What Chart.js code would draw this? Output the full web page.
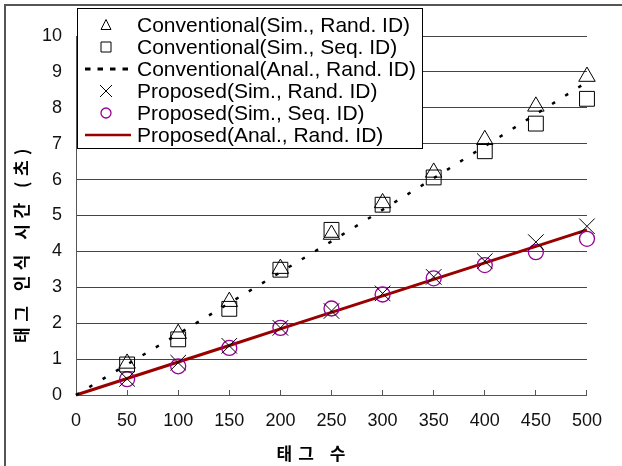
<!DOCTYPE html>
<html>
<head>
<meta charset="utf-8">
<script src="https://cdn.jsdelivr.net/npm/chart.js@4.4.1/dist/chart.umd.min.js"></script>
<style>
html, body { margin: 0; padding: 0; background: #fff; }
#wrap { position: relative; width: 622px; height: 466px; overflow: hidden; }
#frame { position: absolute; left: 4px; top: 4px; width: 700px; height: 600px; border-left: 2px solid #555; border-top: 2px solid #555; }
#myChart { position: absolute; left: 0; top: 0; }
</style>
</head>
<body>
<div id="wrap">
  <div id="frame"></div>
  <canvas id="myChart" width="622" height="466"></canvas>
</div>
<script>
// tag counts
var simTags = [50, 100, 150, 200, 250, 300, 350, 400, 450, 500];
var analTags = [0, 50, 100, 150, 200, 250, 300, 350, 400, 450, 500];

// recognition time (s)
var convSimRand = [0.88, 1.71, 2.6, 3.52, 4.47, 5.35, 6.2, 7.11, 8.04, 8.87];
var convSimSeq = [0.85, 1.55, 2.4, 3.49, 4.6, 5.3, 6.06, 6.79, 7.56, 8.25];
var convAnalRand = [0, 0.85, 1.7, 2.56, 3.42, 4.28, 5.16, 6.04, 6.93, 7.82, 8.72];
var propSimRand = [0.45, 0.9, 1.37, 1.87, 2.34, 2.83, 3.29, 3.73, 4.26, 4.7];
var propSimSeq = [0.44, 0.8, 1.31, 1.87, 2.41, 2.8, 3.25, 3.62, 3.98, 4.35];
var propAnalRand = [0, 0.46, 0.92, 1.38, 1.84, 2.3, 2.76, 3.22, 3.68, 4.14, 4.6];

var labels = [
    'Conventional(Sim., Rand. ID)',
    'Conventional(Sim., Seq. ID)',
    'Conventional(Anal., Rand. ID)',
    'Proposed(Sim., Rand. ID)',
    'Proposed(Sim., Seq. ID)',
    'Proposed(Anal., Rand. ID)'
];
var xTitle = '태그 수';
var yTitle = '태그 인식 시간 (초)';

function pts(xs, ys) {
    return xs.map((x, i) => ({x: x, y: ys[i]}));
}

function markerSet(label, xs, ys, style, radius, color, width) {
    return {
        label: label,
        data: pts(xs, ys),
        showLine: false,
        pointStyle: style,
        pointRadius: radius,
        pointBorderColor: color,
        pointBackgroundColor: 'rgba(0,0,0,0)',
        pointBorderWidth: width,
        borderColor: color,
        clip: false
    };
}

function lineSet(label, xs, ys, color, width, dash) {
    return {
        label: label,
        data: pts(xs, ys),
        borderColor: color,
        borderWidth: width,
        borderDash: dash,
        pointRadius: 0,
        fill: false,
        tension: 0,
        clip: false
    };
}

// small legend marker drawn by hand
function drawMarker(ctx, style, x, y, color, width) {
    ctx.save();
    ctx.strokeStyle = color;
    ctx.lineWidth = width;
    ctx.setLineDash([]);
    ctx.beginPath();
    if (style === 'triangle') {
        ctx.moveTo(x, y - 5.5);
        ctx.lineTo(x - 5, y + 4.5);
        ctx.lineTo(x + 5, y + 4.5);
        ctx.closePath();
    } else if (style === 'rect') {
        ctx.rect(x - 5, y - 5, 10, 10);
    } else if (style === 'crossRot') {
        ctx.moveTo(x - 6, y - 6); ctx.lineTo(x + 6, y + 6);
        ctx.moveTo(x + 6, y - 6); ctx.lineTo(x - 6, y + 6);
    } else {
        ctx.arc(x, y, 5, 0, Math.PI * 2);
    }
    ctx.stroke();
    ctx.restore();
}

var boxLegend = {
    id: 'boxLegend',
    afterDraw(chart) {
        var ctx = chart.ctx;
        ctx.save();
        ctx.fillStyle = '#fff';
        ctx.strokeStyle = '#000';
        ctx.lineWidth = 1;
        ctx.fillRect(77.5, 8.5, 345, 140);
        ctx.strokeRect(77.5, 8.5, 345, 140);
        ctx.font = '21px "Liberation Sans", Arial, sans-serif';
        ctx.textBaseline = 'middle';
        ctx.textAlign = 'left';
        chart.data.datasets.forEach((ds, i) => {
            var y = 25 + i * 22;
            if (ds.showLine === false) {
                drawMarker(ctx, ds.pointStyle, 106, y, ds.pointBorderColor, ds.pointBorderWidth);
            } else {
                ctx.save();
                ctx.strokeStyle = ds.borderColor;
                ctx.lineWidth = i === 2 ? 3 : 2.5;
                ctx.setLineDash(i === 2 ? [5.5, 7] : []);
                ctx.beginPath();
                ctx.moveTo(85, y);
                ctx.lineTo(131, y);
                ctx.stroke();
                ctx.restore();
            }
            ctx.fillStyle = '#000';
            ctx.fillText(ds.label, 137, y + 1);
        });

        // axis titles
        ctx.font = 'bold 17px "Noto Sans CJK KR", sans-serif';
        ctx.fillStyle = '#000';
        ctx.textAlign = 'center';
        ctx.textBaseline = 'middle';
        if ('letterSpacing' in ctx) ctx.letterSpacing = '6px';
        ctx.fillText(xTitle, 314, 454);
        if ('letterSpacing' in ctx) ctx.letterSpacing = '5.5px';
        ctx.translate(22, 246);
        ctx.rotate(-Math.PI / 2);
        ctx.fillText(yTitle, 3, 0);
        ctx.restore();
    }
};

var ctx = document.getElementById('myChart').getContext('2d');
var myChart = new Chart(ctx, {
    type: 'line',
    data: {
        datasets: [
            markerSet(labels[0], simTags, convSimRand, 'triangle', 9.5, '#000', 1),
            markerSet(labels[1], simTags, convSimSeq, 'rect', 10.5, '#000', 1),
            lineSet(labels[2], analTags, convAnalRand, '#000', 2.5, [3.5, 12]),
            markerSet(labels[3], simTags, propSimRand, 'crossRot', 11, '#000', 1),
            markerSet(labels[4], simTags, propSimSeq, 'circle', 7.5, '#990099', 1.3),
            lineSet(labels[5], analTags, propAnalRand, '#990000', 3, [])
        ]
    },
    options: {
        responsive: false,
        animation: false,
        events: [],
        layout: { padding: { top: 36, right: 31, left: 0, bottom: 0 } },
        plugins: {
            legend: { display: false },
            tooltip: { enabled: false }
        },
        scales: {
            x: {
                type: 'linear',
                min: 0,
                max: 500,
                ticks: {
                    stepSize: 50,
                    padding: 20,
                    color: '#111',
                    font: { family: '"Liberation Sans", Arial, sans-serif', size: 18 }
                },
                grid: { drawOnChartArea: false, drawTicks: true, tickLength: -5, color: '#555' },
                border: { color: '#555', width: 1 },
                afterFit: (scale) => { scale.height = 71; }
            },
            y: {
                min: 0,
                max: 10,
                ticks: {
                    stepSize: 1,
                    padding: 14,
                    color: '#111',
                    font: { family: '"Liberation Sans", Arial, sans-serif', size: 18 }
                },
                grid: { drawTicks: false, color: '#444' },
                border: { color: '#555', width: 1 },
                afterFit: (scale) => { scale.width = 76; }
            }
        }
    },
    plugins: [boxLegend]
});
</script>
</body>
</html>
